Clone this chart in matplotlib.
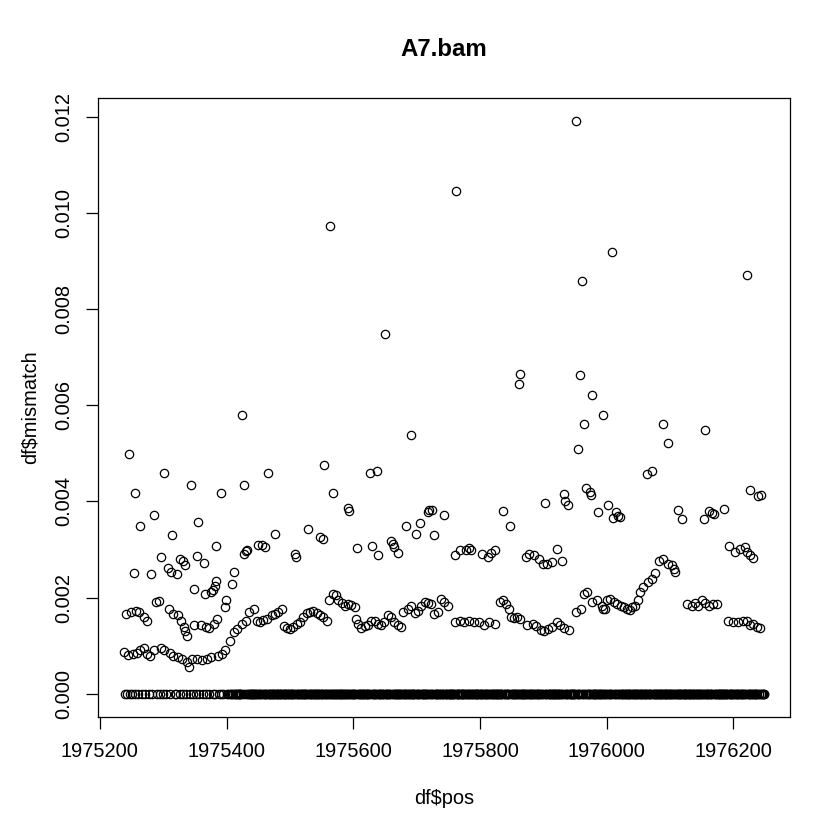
import numpy as np
import matplotlib
matplotlib.use("Agg")
import matplotlib.pyplot as plt

plt.rcParams['font.family'] = ['Liberation Sans', 'DejaVu Sans']

title = "A7.bam"
xlabel = "df\\$pos"
ylabel = "df\\$mismatch"
xticks = [1975200, 1975400, 1975600, 1975800, 1976000, 1976200]
yticks = [0.000, 0.002, 0.004, 0.006, 0.008, 0.010, 0.012]

# non-zero mismatch positions and values
nz_pos = [
    1975952, 1975762, 1975564, 1976222, 1975961, 1976009, 1975650,
    1975864, 1975862, 1975958, 1975977, 1975995, 1975965, 1975955, 1976089, 1976155,
    1976097, 1976064, 1976072, 1975968, 1975973, 1975975, 1975932, 1975934, 1975939,
    1976002, 1975987, 1976014, 1976018, 1976010, 1976021, 1976112, 1976119, 1976153,
    1976161, 1976166, 1976170, 1976186, 1976226, 1976239, 1976244, 1975922, 1976193,
    1975425, 1975246, 1975554, 1975301, 1975466, 1975344, 1975427, 1975255, 1975392,
    1975285, 1975355, 1975263, 1975529, 1975314, 1975477, 1975547, 1975553, 1975383,
    1975450, 1975456, 1975461, 1975432,
    1975691, 1975626, 1975637, 1975568, 1975592, 1975594, 1975719, 1975725, 1975718,
    1975743, 1975837, 1975903, 1975683, 1975705, 1975847, 1975699, 1975727, 1975606,
    1975629, 1975659, 1975662, 1975665, 1975768, 1975783, 1975823,
    1975297, 1975327, 1975332, 1975334, 1975354, 1975365, 1975254, 1975280, 1975307,
    1975312, 1975322, 1975412, 1975428, 1975430, 1975384, 1975381, 1975379, 1975375,
    1975366, 1975349, 1975409, 1975399, 1975398, 1975288, 1975293,
    1975241, 1975249, 1975257, 1975262, 1975270, 1975274, 1975309, 1975315, 1975323,
    1975328, 1975333, 1975335, 1975338, 1975348, 1975359, 1975367, 1975372, 1975380,
    1975385,
    1975238, 1975245, 1975253, 1975259, 1975264, 1975269, 1975275, 1975279, 1975286,
    1975296, 1975302, 1975310, 1975316, 1975324, 1975330, 1975337, 1975340, 1975346,
    1975353, 1975361, 1975369, 1975376, 1975386, 1975393, 1975397,
    1975406, 1975411, 1975417, 1975424, 1975431, 1975435, 1975443, 1975448, 1975453,
    1975458, 1975464,
    1975472, 1975477, 1975482, 1975487, 1975490, 1975495, 1975500, 1975505, 1975511,
    1975516, 1975521, 1975527, 1975532, 1975537, 1975542, 1975547, 1975553, 1975558,
    1975561, 1975568, 1975573, 1975576, 1975582, 1975587, 1975592, 1975597, 1975603,
    1975605, 1975607, 1975613, 1975618, 1975623, 1975628, 1975634, 1975639, 1975644,
    1975649, 1975655, 1975660, 1975665, 1975671, 1975676, 1975678, 1975686, 1975691,
    1975697, 1975702, 1975707, 1975713, 1975718, 1975723, 1975728, 1975734,
    1975508, 1975510, 1975639, 1975671,
    1975739, 1975744, 1975749,
    1975760, 1975778, 1975786, 1975804, 1975812, 1975817, 1975872, 1975878, 1975886,
    1975893, 1975899, 1975906, 1975914, 1975930,
    1975760, 1975768, 1975775, 1975783, 1975791, 1975799, 1975807, 1975815, 1975823,
    1975831, 1975836, 1975841, 1975846, 1975849, 1975854, 1975859, 1975864, 1975875,
    1975883, 1975888, 1975896, 1975901, 1975907, 1975914, 1975922, 1975927, 1975933,
    1975941, 1975951, 1975959, 1975964, 1975969, 1975977, 1975985, 1975993, 1975998,
    1976203, 1976210, 1976218, 1976221, 1976226, 1976231,
    1975995, 1976001, 1976006, 1976011, 1976016, 1976022, 1976027, 1976032, 1976037,
    1976040, 1976045, 1976050, 1976053, 1976058, 1976066, 1976071, 1976077, 1976082,
    1976089, 1976097, 1976103, 1976106, 1976108,
    1976127, 1976134, 1976140, 1976145, 1976150, 1976155, 1976161, 1976168, 1976174,
    1976192, 1976200, 1976208, 1976216, 1976221, 1976226, 1976231, 1976237, 1976242,
]
nz_val = [
    0.01191, 0.01045, 0.00972, 0.00870, 0.00858, 0.00918, 0.00747,
    0.00664, 0.00645, 0.00662, 0.00622, 0.00579, 0.00560, 0.00508, 0.00560, 0.00549,
    0.00522, 0.00456, 0.00463, 0.00428, 0.00419, 0.00414, 0.00415, 0.00401, 0.00393,
    0.00393, 0.00378, 0.00378, 0.00369, 0.00365, 0.00367, 0.00383, 0.00364, 0.00364,
    0.00381, 0.00376, 0.00373, 0.00385, 0.00423, 0.00412, 0.00414, 0.00301, 0.00308,
    0.00579, 0.00499, 0.00476, 0.00460, 0.00460, 0.00435, 0.00435, 0.00418, 0.00418,
    0.00372, 0.00358, 0.00349, 0.00343, 0.00331, 0.00333, 0.00326, 0.00321, 0.00308,
    0.00309, 0.00309, 0.00306, 0.00298,
    0.00537, 0.00460, 0.00464, 0.00418, 0.00386, 0.00379, 0.00383, 0.00383, 0.00378,
    0.00372, 0.00380, 0.00397, 0.00349, 0.00355, 0.00349, 0.00333, 0.00331, 0.00304,
    0.00307, 0.00318, 0.00312, 0.00306, 0.00299, 0.00303, 0.00299,
    0.00284, 0.00281, 0.00276, 0.00267, 0.00286, 0.00271, 0.00251, 0.00248, 0.00262,
    0.00253, 0.00248, 0.00253, 0.00291, 0.00296, 0.00235, 0.00225, 0.00216, 0.00211,
    0.00207, 0.00217, 0.00228, 0.00194, 0.00180, 0.00191, 0.00192,
    0.00166, 0.00169, 0.00173, 0.00171, 0.00159, 0.00152, 0.00176, 0.00166, 0.00163,
    0.00152, 0.00138, 0.00131, 0.00121, 0.00142, 0.00142, 0.00138, 0.00137, 0.00145,
    0.00156,
    0.00086, 0.00081, 0.00083, 0.00084, 0.00090, 0.00095, 0.00083, 0.00079, 0.00090,
    0.00096, 0.00090, 0.00084, 0.00079, 0.00076, 0.00072, 0.00067, 0.00056, 0.00072,
    0.00072, 0.00071, 0.00072, 0.00076, 0.00079, 0.00083, 0.00090,
    0.00110, 0.00128, 0.00135, 0.00145, 0.00152, 0.00169, 0.00176, 0.00152, 0.00149,
    0.00154, 0.00156,
    0.00163, 0.00166, 0.00171, 0.00176, 0.00140, 0.00137, 0.00135, 0.00138, 0.00145,
    0.00149, 0.00159, 0.00167, 0.00171, 0.00173, 0.00167, 0.00163, 0.00160, 0.00152,
    0.00194, 0.00208, 0.00206, 0.00194, 0.00188, 0.00183, 0.00187, 0.00185, 0.00181,
    0.00155, 0.00145, 0.00137, 0.00140, 0.00142, 0.00152, 0.00152, 0.00145, 0.00144,
    0.00149, 0.00163, 0.00159, 0.00149, 0.00142, 0.00138, 0.00169, 0.00176, 0.00183,
    0.00167, 0.00173, 0.00183, 0.00190, 0.00188, 0.00187, 0.00166, 0.00169,
    0.00290, 0.00284, 0.00288, 0.00292,
    0.00197, 0.00190, 0.00183,
    0.00288, 0.00299, 0.00298, 0.00291, 0.00284, 0.00292, 0.00285, 0.00290, 0.00288,
    0.00281, 0.00269, 0.00270, 0.00274, 0.00276,
    0.00149, 0.00151, 0.00149, 0.00152, 0.00149, 0.00149, 0.00144, 0.00149, 0.00145,
    0.00190, 0.00194, 0.00187, 0.00176, 0.00160, 0.00158, 0.00159, 0.00156, 0.00142,
    0.00145, 0.00140, 0.00133, 0.00131, 0.00135, 0.00138, 0.00149, 0.00142, 0.00137,
    0.00133, 0.00169, 0.00176, 0.00208, 0.00211, 0.00190, 0.00194, 0.00183, 0.00176,
    0.00294, 0.00301, 0.00305, 0.00294, 0.00288, 0.00283,
    0.00176, 0.00194, 0.00197, 0.00190, 0.00187, 0.00183, 0.00180, 0.00176, 0.00174,
    0.00180, 0.00183, 0.00194, 0.00211, 0.00221, 0.00232, 0.00239, 0.00251, 0.00277,
    0.00281, 0.00270, 0.00267, 0.00260, 0.00253,
    0.00187, 0.00183, 0.00188, 0.00183, 0.00194, 0.00188, 0.00183, 0.00187, 0.00187,
    0.00152, 0.00150, 0.00149, 0.00151, 0.00152, 0.00142, 0.00145, 0.00138, 0.00137,
]

# zero-mismatch positions: sparse at the start, then every remaining position
zero_pos_start = [
    1975240, 1975243, 1975247, 1975251, 1975256, 1975261, 1975266, 1975272, 1975277,
    1975283, 1975290, 1975295, 1975299, 1975304, 1975311, 1975318, 1975321, 1975326,
    1975331, 1975336, 1975342, 1975347, 1975351, 1975357, 1975363, 1975368, 1975373,
    1975378, 1975382, 1975388, 1975391, 1975395, 1975400, 1975403,
]
dense_first, dense_last = 1975405, 1976249

nz_set = set(nz_pos)
zero_pos = list(zero_pos_start) + [p for p in range(dense_first, dense_last + 1) if p not in nz_set]

pos = np.array(list(nz_pos) + zero_pos, dtype=float)
mismatch = np.array(list(nz_val) + [0.0] * len(zero_pos))

W, H = 840, 840
fig = plt.figure(figsize=(7, 7), dpi=120)
ax = fig.add_axes([98.3 / W, 1 - 716.7 / H, (790 - 98.3) / W, (716.7 - 98) / H])

ax.plot(pos, mismatch, linestyle='none', marker='o', markersize=5.0,
        markerfacecolor='none', markeredgecolor='black', markeredgewidth=0.75)

xr = pos.max() - pos.min()
ax.set_xlim(pos.min() - 0.04 * xr, pos.max() + 0.04 * xr)
yr = mismatch.max() - mismatch.min()
ax.set_ylim(mismatch.min() - 0.04 * yr, mismatch.max() + 0.04 * yr)

ax.set_xticks(xticks)
ax.set_xticklabels([str(t) for t in xticks])
ax.set_yticks(yticks)
ax.set_yticklabels([f"{t:.3f}" for t in yticks])

for s in ax.spines.values():
    s.set_linewidth(0.75)
ax.tick_params(axis='both', direction='out', length=7.2, width=0.75, labelsize=12, colors='black')
ax.tick_params(axis='x', pad=8)
ax.tick_params(axis='y', pad=8)
for lab in ax.get_yticklabels():
    lab.set_rotation(90)
    lab.set_va('center')
    lab.set_ha('right')

fig.text(444 / W, 1 - 50 / H, title, ha='center', va='center', fontsize=14.4, fontweight='bold')
fig.text(444 / W, 1 - 798 / H, xlabel, ha='center', va='center', fontsize=12)
fig.text(30 / W, 1 - 407 / H, ylabel, ha='center', va='center', fontsize=12, rotation=90)

fig.savefig("out.png", dpi=120, facecolor='white')
